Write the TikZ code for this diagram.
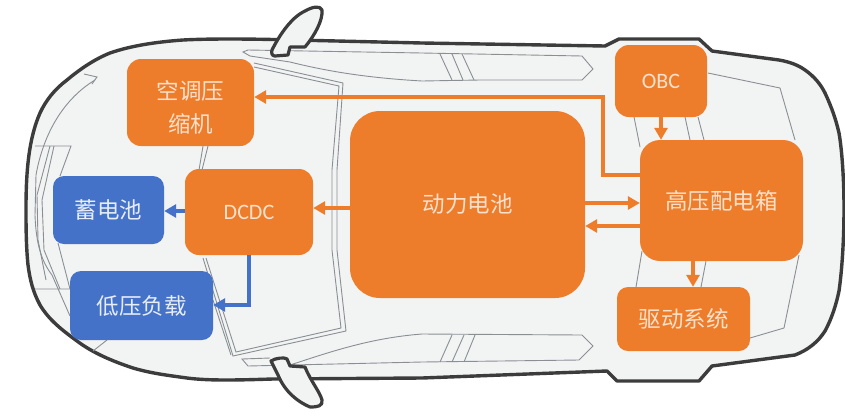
\documentclass[tikz,border=0pt]{standalone}
\usepackage{fontspec}
\setmainfont{Carlito}
\newfontfamily\cjk{Noto Sans CJK SC}
\usetikzlibrary{arrows.meta,calc}
\definecolor{boxor}{HTML}{ED7D2B}
\definecolor{boxbl}{HTML}{4472C8}
\definecolor{carfill}{HTML}{F2F3F3}
\definecolor{carline}{HTML}{3C3C3C}
\definecolor{thinl}{HTML}{8A8F94}
\definecolor{txt}{HTML}{FBE0CC}
\definecolor{txtb}{HTML}{E6ECF8}
\tikzset{
  x=1pt,y=-1pt,
  orbox/.style={fill=boxor,text=txt,rounded corners=#1,inner sep=0pt,align=center},
  orbox/.default=14pt,
  blbox/.style={fill=boxbl,text=txtb,rounded corners=11pt,inner sep=0pt,align=center},
  cjktext/.style={font=\fontsize{22.5}{33}\selectfont\cjk},
  lattext/.style={font=\fontsize{22}{26}\selectfont},
  orarrow/.style={draw=boxor,line width=3.4pt,-{Triangle[length=12pt,width=13pt]}},
  blarrow/.style={draw=boxbl,line width=3.4pt,-{Triangle[length=12pt,width=13pt]}},
  thin line/.style={draw=thinl,line width=0.9pt},
  mirror/.style={draw=carline,fill=carfill,line width=3.2pt,line join=round},
}
\newcommand{\bx}[6]{\node[#1,minimum width=#4pt,minimum height=#5pt] (#2) at (#3) {#6};}
\begin{document}
\begin{tikzpicture}
\useasboundingbox (0,0) rectangle (845,416);
\fill[white] (0,0) rectangle (845,416);
% car body
\draw[fill=carfill,draw=carline,line width=3.4pt,line join=round]
  (26,208) .. controls (26,170) and (29,138) .. (40,113)
  .. controls (46,100) and (55,89) .. (67,80)
  .. controls (80,69) and (95,59) .. (110,53)
  .. controls (130,46) and (155,42) .. (183,40)
  .. controls (210,38.5) and (250,39) .. (273,39.5)
  -- (422,43) -- (605,46) -- (619,39) -- (699,39) -- (712,51) -- (779,60)
  .. controls (790,62) and (798,65) .. (805,70)
  .. controls (815,77) and (821,85) .. (825,93)
  .. controls (832,108) and (836,120) .. (839,133)
  .. controls (842,150) and (844,180) .. (844,208)
  .. controls (844,240) and (842,270) .. (839,291)
  .. controls (836,305) and (832,318) .. (825,331)
  .. controls (818,342) and (808,350) .. (795,355)
  -- (712,366) -- (699,381) -- (617,381) -- (607,371) -- (422,378) -- (273,379)
  .. controls (240,380) and (210,381) .. (187,378)
  .. controls (165,375) and (150,373) .. (133,368)
  .. controls (112,361) and (93,353) .. (77,341)
  .. controls (62,330) and (49,320) .. (40,305)
  .. controls (33,292) and (30,280) .. (28,265)
  .. controls (26,245) and (26,225) .. (26,208) -- cycle;
% thin sketch lines
\draw[thin line] (243,52) -- (248,50) -- (422,53) -- (582,56) -- (593,69) -- (582,80) -- (480,80) -- (422,81)
  .. controls (370,78) and (330,72) .. (290,62) -- (250,56) -- cycle;
\draw[thin line] (440,54) -- (452,80) (452,54) -- (463,80) (462,54) -- (474,80);
\draw[thin line] (254,63) -- (343,83) -- (337,170) -- (337,250) -- (346,331) -- (233,356) -- (203,258);
\draw[thin line] (254,67) -- (339,86) -- (332,170) -- (332,250) -- (341,328) -- (236,352) -- (206,258);
\draw[thin line] (208,146) -- (202,170) (203,146) -- (199,170);
\draw[thin line] (213,300) -- (231,355);
\draw[thin line] (290,365) .. controls (330,352) and (370,338) .. (422,334) -- (582,335) -- (593,346) -- (579,360) -- (422,362) -- (248,366) -- (242,359) -- (270,358);
\draw[thin line] (440,362) -- (452,335) (452,362) -- (464,335) (464,362) -- (475,335);
\draw[thin line] (708,73) -- (780,88) -- (795,140);
\draw[thin line] (799,255) -- (784,328) -- (750,338);
\draw[thin line] (634,117) -- (640,147) (685,117) -- (690,140) (698,117) -- (704,140);
\draw[thin line] (642,251) -- (636,287) (706,261) -- (701,287);
\draw[thin line] (84,74) -- (97,77) -- (92,84);
\draw[thin line] (95,80) .. controls (70,95) and (45,125) .. (36,175) -- (35,215) .. controls (36,245) and (42,262) .. (52,275) -- (70,316);
\draw[thin line] (35,146) -- (71,146) -- (60,176);
\draw[thin line] (54,146) -- (42,200) -- (44,250) -- (60,289);
\draw[thin line] (50,146) -- (37,195) -- (38,240) -- (46,280);
\draw[thin line] (35,289) -- (70,289) (58,243) -- (70,289);
\draw[thin line] (107,340) -- (93,351);
% mirrors
\draw[mirror] (272,50) .. controls (278,38) and (290,18) .. (305,11) .. controls (312,7) and (320,5) .. (322,10)
  .. controls (323,20) and (315,35) .. (305,47) -- (290,47) -- (288,55) -- (275,56) .. controls (272,56) and (271,53) .. (272,50) -- cycle;
\draw[mirror] (271,361) .. controls (275,358) and (285,357) .. (287,359) -- (290,366) -- (305,367)
  .. controls (310,380) and (320,392) .. (322,400) .. controls (323,406) and (318,407) .. (310,407)
  .. controls (298,402) and (285,392) .. (278,375) -- cycle;
% boxes
\bx{orbox,cjktext}{ac}{190.5,102.5}{127}{87}{\begin{tabular}{@{}c@{}}\rule{0pt}{36pt}空调压\\缩机\end{tabular}}
\bx{blbox,cjktext}{lvb}{108.5,210}{111}{68}{蓄电池}
\bx{orbox,lattext}{dc}{249,212}{128}{86}{DCDC}
\bx{blbox,cjktext}{lvl}{141.5,305.5}{143}{69}{低压负载}
\bx{orbox=30pt,cjktext}{bat}{467.5,204.5}{235}{187}{动力电池}
\bx{orbox,lattext}{obc}{661,81}{92}{72}{OBC}
\bx{orbox=20pt,cjktext}{hv}{721.5,200.5}{163}{121}{高压配电箱}
\bx{orbox=11pt,cjktext}{drv}{683.5,319}{133}{64}{驱动系统}
% connectors
\draw[orarrow] (hv.west |- 0,175) -| (603,97) -- (ac.east |- 0,97);
\draw[orarrow] (obc.south -| 661,0) -- (hv.north -| 661,0);
\draw[orarrow] (hv.south -| 693,0) -- (drv.north -| 693,0);
\draw[orarrow] (bat.east |- 0,203) -- (hv.west |- 0,203);
\draw[orarrow] (hv.west |- 0,226) -- (bat.east |- 0,226);
\draw[orarrow] (bat.west |- 0,208) -- (dc.east |- 0,208);
\draw[blarrow] (dc.west |- 0,211) -- (lvb.east |- 0,211);
\draw[blarrow] (dc.south -| 249,0) |- (lvl.east |- 0,305);
\end{tikzpicture}
\end{document}
